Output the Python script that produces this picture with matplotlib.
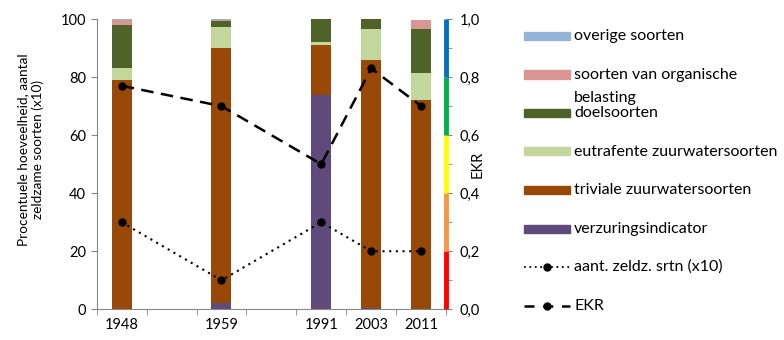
import matplotlib
matplotlib.use('Agg')
import matplotlib.pyplot as plt
import matplotlib.transforms as mtransforms
from matplotlib.patches import Rectangle
from matplotlib.lines import Line2D

plt.rcParams['font.family'] = ['Lato', 'DejaVu Sans']

# categories (empty slots are gaps on the category axis)
categories = ['1948', '', '1959', '', '1991', '2003', '2011']
years = ['1948', '1959', '1991', '2003', '2011']
year_pos = [0, 2, 4, 5, 6]

# percentages per species group, bottom to top
verzuring = [0, 2, 74, 0.5, 0]
triviaal = [79, 88, 17, 85.5, 72]
eutrafent = [4, 7.4, 1, 10.5, 9.5]
doel = [15, 2, 8, 3.5, 15]
organisch = [1.5, 0.3, 0, 0, 3.2]
overig = [0.5, 0.3, 0, 0, 0]

rare_x10 = [30, 10, 30, 20, 20]
ekr = [0.77, 0.70, 0.50, 0.83, 0.70]

groups = [
    ('verzuringsindicator', verzuring, '#604A7B'),
    ('triviale zuurwatersoorten', triviaal, '#984807'),
    ('eutrafente zuurwatersoorten', eutrafent, '#C3D69B'),
    ('doelsoorten', doel, '#4F6228'),
    ('soorten van organische\nbelasting', organisch, '#D99694'),
    ('overige soorten', overig, '#95B3D7'),
]

ekr_bands = [(0.0, 0.2, '#FF0000'), (0.2, 0.4, '#F79646'), (0.4, 0.6, '#FFFF00'),
             (0.6, 0.8, '#00B050'), (0.8, 1.0, '#0070C0')]

grey = '#868686'
fs = 10.5
legend_fs = 11.5
fig = plt.figure(figsize=(7.84, 3.4), dpi=100)
ax = fig.add_axes([0.1233, 0.0903, 0.4457, 0.8537])

bottom = [0.0] * len(years)
for name, vals, col in groups:
    ax.bar(year_pos, vals, width=0.4, bottom=bottom, color=col, zorder=2)
    bottom = [b + v for b, v in zip(bottom, vals)]

ax.plot(year_pos, rare_x10, color='black', linestyle=(0, (1, 2.2)), lw=1.5,
        marker='o', ms=5, zorder=4)

ax.set_xlim(-0.5, len(categories) - 0.5)
ax.set_ylim(0, 100)
ax.set_yticks(range(0, 101, 20))
ax.set_xticks(year_pos)
ax.set_xticklabels(years)
ax.set_xticks([i + 0.5 for i in range(-1, len(categories))], minor=True)
ax.tick_params(axis='x', which='major', length=0, labelsize=fs, pad=6)
ax.tick_params(axis='x', which='minor', length=4, color=grey, direction='out')
ax.tick_params(axis='y', length=4, color=grey, labelsize=fs)
ax.set_ylabel('Procentuele hoeveelheid, aantal\nzeldzame soorten (x10)', fontsize=9.8)
ax.yaxis.set_label_coords(-0.15, 0.55)
for s in ['top', 'right']:
    ax.spines[s].set_visible(False)
for s in ['left', 'bottom']:
    ax.spines[s].set_color(grey)

ax2 = ax.twinx()
ax2.set_ylim(0, 1)
ax2.plot(year_pos, ekr, color='black', linestyle=(0, (5, 3)), lw=1.8,
         marker='o', ms=5, zorder=4)
ax2.set_yticks([i / 10 for i in range(0, 11, 2)])
ax2.yaxis.set_major_formatter(plt.FuncFormatter(lambda v, p: ('%.1f' % v).replace('.', ',')))
ax2.set_yticks([i / 10 for i in range(1, 11, 2)], minor=True)
ax2.tick_params(axis='y', which='both', length=4, color=grey, labelsize=fs, pad=6)
ax2.set_ylabel('EKR', fontsize=fs)
ax2.yaxis.set_label_coords(1.07, 0.5)
for s in ['top', 'left', 'bottom', 'right']:
    ax2.spines[s].set_visible(False)
trans = mtransforms.blended_transform_factory(ax2.transAxes, ax2.transData)
for lo, hi, col in ekr_bands:
    ax2.plot([1, 1], [lo, hi], color=col, lw=3.5, transform=trans, clip_on=False,
             solid_capstyle='butt', zorder=5)

# legend drawn by hand so the wrapped label sits like in the original
legend_items = [(name, col) for name, vals, col in groups][::-1]
y0 = 1 - 36 / 340
step = 38.5 / 340
for i, (name, col) in enumerate(legend_items):
    y = y0 - i * step
    fig.patches.append(Rectangle((524 / 784, y - 4 / 340), 46 / 784, 8 / 340,
                                 transform=fig.transFigure, color=col))
    lines = name.split('\n')
    fig.text(574 / 784, y, lines[0], fontsize=legend_fs, va='center', ha='left')
    if len(lines) > 1:
        fig.text(574 / 784, y - 0.62 * step, lines[1], fontsize=legend_fs, va='center', ha='left')

n = len(legend_items)
y = y0 - n * step
fig.lines.append(Line2D([524 / 784, 570 / 784], [y, y], transform=fig.transFigure,
                        color='black', linestyle=(0, (1, 2)), lw=1.3))
fig.lines.append(Line2D([547 / 784], [y], transform=fig.transFigure, color='black',
                        marker='o', ms=5))
fig.text(574 / 784, y, 'aant. zeldz. srtn (x10)', fontsize=legend_fs, va='center', ha='left')
y = y0 - (n + 1) * step
fig.lines.append(Line2D([524 / 784, 570 / 784], [y, y], transform=fig.transFigure,
                        color='black', linestyle=(0, (4, 3.5)), lw=1.8))
fig.lines.append(Line2D([547 / 784], [y], transform=fig.transFigure, color='black',
                        marker='o', ms=5))
fig.text(574 / 784, y, 'EKR', fontsize=legend_fs, va='center', ha='left')

fig.savefig('out.png', dpi=100)
